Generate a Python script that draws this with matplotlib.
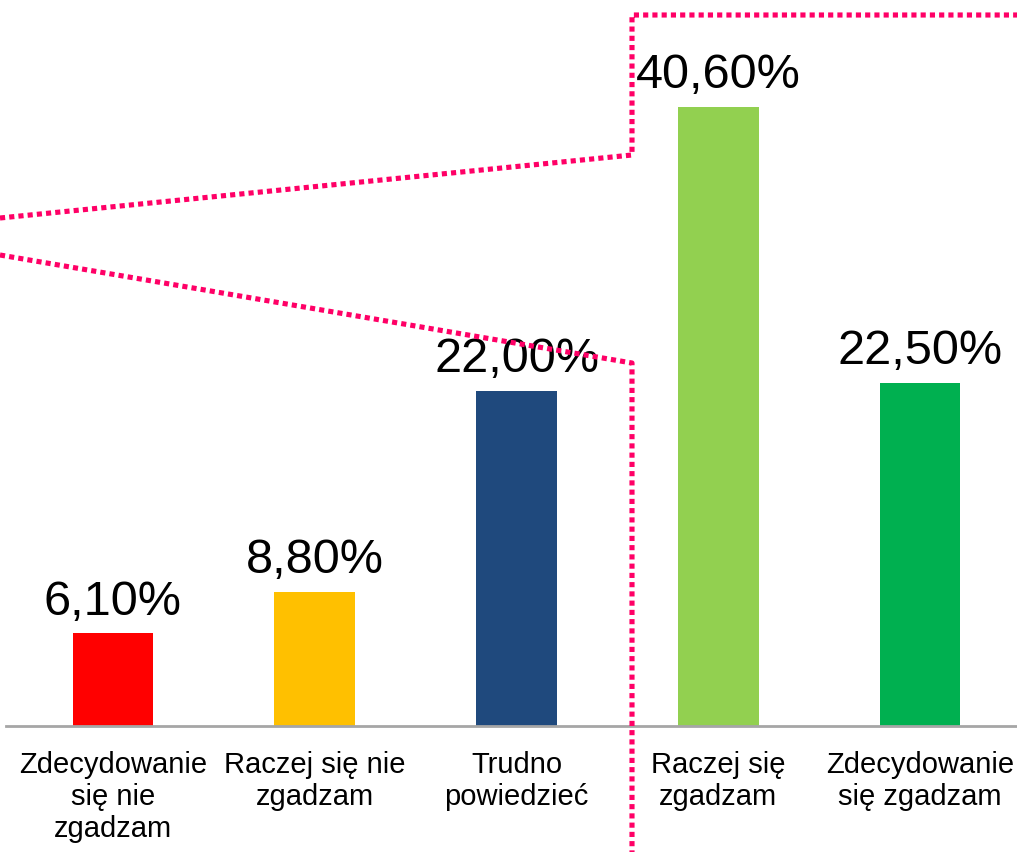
import matplotlib
matplotlib.use("Agg")
import matplotlib.pyplot as plt
from matplotlib.lines import Line2D

categories = ["Zdecydowanie\nsię nie\nzgadzam", "Raczej się nie\nzgadzam", "Trudno\npowiedzieć",
              "Raczej się\nzgadzam", "Zdecydowanie\nsię zgadzam"]
values = [6.1, 8.8, 22.0, 40.6, 22.5]
value_labels = ["6,10%", "8,80%", "22,00%", "40,60%", "22,50%"]
colors = ["#FF0000", "#FFC000", "#1F497D", "#92D050", "#00B050"]

W, H = 1017, 853
fig = plt.figure(figsize=(W / 100, H / 100), dpi=100)
plt.rcParams['font.family'] = ['Liberation Sans', 'DejaVu Sans']

left_px, right_px = 6, 1021
base_px, top_px = 727, 727 - 45 * 15.25
ax = fig.add_axes([left_px / W, (H - base_px) / H, (right_px - left_px) / W, (base_px - top_px) / H])
x = list(range(len(categories)))
ax.bar(x, values, width=0.4, color=colors, zorder=2)
ax.set_xlim(-0.53, 4.5)
ax.set_ylim(0, 45)
for s in ["top", "right", "left"]:
    ax.spines[s].set_visible(False)
ax.spines["bottom"].set_color("#A6A6A6")
ax.spines["bottom"].set_linewidth(2)
ax.set_yticks([])
ax.set_xticks(x)
ax.set_xticklabels(categories, fontsize=21, linespacing=1.2)
ax.tick_params(axis="x", length=0, pad=17)

for xi, v, lab in zip(x, values, value_labels):
    ax.annotate(lab, (xi, v), xytext=(0, 14), textcoords="offset points",
                ha="center", va="baseline", fontsize=35)

# pink dotted callout overlay (pixel coordinates)
ov = fig.add_axes([0, 0, 1, 1], facecolor="none")
ov.set_xlim(0, W)
ov.set_ylim(H, 0)
ov.axis("off")
pink = "#FF0066"
paths = [
    ([0, 632, 632, 1017], [219, 156, 16, 16]),
    ([0, 632, 632], [256, 364, 853]),
]
for xs, ys in paths:
    ov.add_line(Line2D(xs, ys, color=pink, linewidth=3.7, dashes=(1.0, 0.8),
                       dash_capstyle="butt", solid_joinstyle="miter", clip_on=False))

fig.savefig("out.png", dpi=100)
